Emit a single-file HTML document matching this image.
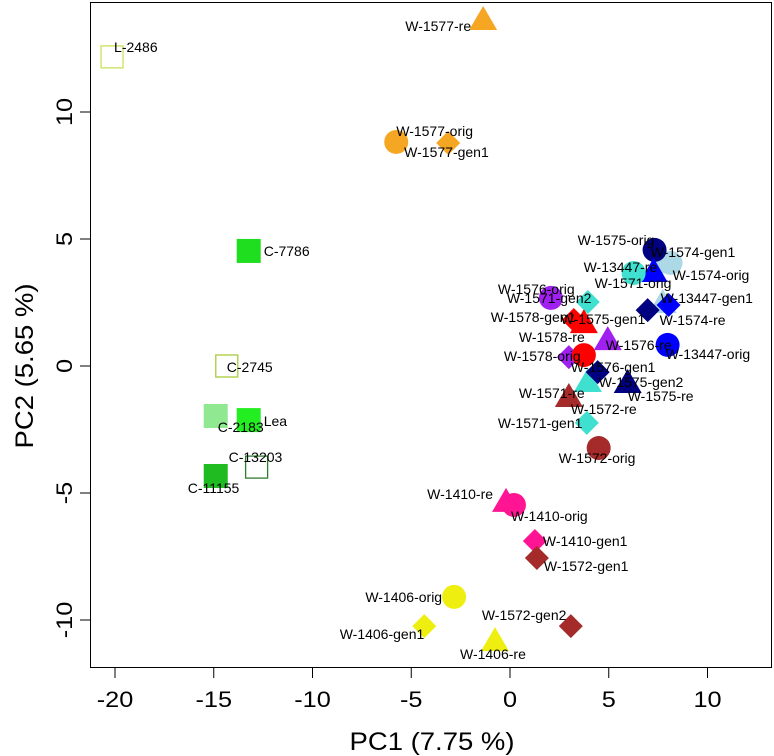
<!DOCTYPE html>
<html><head><meta charset="utf-8"><style>
html,body{margin:0;padding:0;background:#fff;}
svg{display:block;font-family:"Liberation Sans",Arial,sans-serif;}
</style></head><body>
<svg id="chart" width="774" height="756" viewBox="0 0 774 756" xmlns="http://www.w3.org/2000/svg"></svg>
<script>
const names = ["L-2486","W-1577-re","W-1577-orig","W-1577-gen1","C-7786","C-2745","C-2183","Lea","C-13203","C-11155","W-1410-re","W-1410-orig","W-1410-gen1","W-1572-gen1","W-1406-orig","W-1406-gen1","W-1406-re","W-1572-gen2",
"W-1574-gen1","W-1574-orig","W-1575-orig","W-13447-re","W-1571-orig","W-1574-re","W-13447-gen1","W-1575-gen1","W-13447-orig","W-1571-gen2","W-1576-orig","W-1578-gen1","W-1578-re","W-1576-re","W-1576-gen1","W-1578-orig","W-1571-re","W-1575-gen2","W-1575-re","W-1572-re","W-1571-gen1","W-1572-orig"];
const pc1 = [-20.15,-1.36,-5.76,-3.13,-13.23,-14.34,-14.9,-13.23,-12.83,-14.9,-0.2,0.2,1.26,1.36,-2.83,-4.34,-0.76,3.08,
7.73,8.13,7.32,7.27,6.26,7.73,8.03,6.97,7.98,3.94,2.07,3.23,3.74,4.95,2.98,3.74,3.94,4.44,5.96,2.98,3.89,4.49];
const pc2 = [12.17,13.62,8.82,8.78,4.53,0,-1.97,-2.13,-3.98,-4.33,-5.35,-5.47,-6.89,-7.56,-9.09,-10.24,-10.83,-10.24,
4.09,4.06,4.57,3.70,3.66,2.48,2.40,2.20,0.83,2.52,2.68,1.81,1.69,1.02,0.35,0.43,-0.63,-0.24,-0.67,-1.22,-2.24,-3.23];
const shapes = ["osq","tri","cir","dia","sq","osq","sq","sq","osq","sq","tri","cir","dia","dia","cir","dia","tri","dia",
"dia","cir","cir","tri","cir","tri","dia","dia","cir","dia","cir","dia","tri","tri","dia","cir","tri","dia","tri","tri","dia","cir"];
const colors = ["#c8e35a","#f5a623","#f5a623","#f5a623","#1fdd1f","#a9cc3a","#90e890","#22ee22","#2e7d2e","#20bb20","#ff1493","#ff1493","#ff1493","#a52a2a","#eeee10","#eeee10","#eeee10","#a52a2a",
"#add8e6","#add8e6","#000080","#0000ff","#40e0d0","#add8e6","#0000ff","#000080","#0000ff","#40e0d0","#a020f0","#ff0000","#ff0000","#a020f0","#a020f0","#ff0000","#40e0d0","#000080","#000080","#a52a2a","#40e0d0","#a52a2a"];
const labelDx = [2,-12,0,-44,15,0,2,15,-28,-28,-13,-3,8,7,-12,0,-35,-89,
-12,2,-77,-70,-39,-3,-8,-87,-2,-81,-53,-83,-65,-2,2,-80,-69,1,0,2,-89,-40];
const labelDy = [-10,6,-11,9,0,1,11,1,-10,12,-8,11,0,8,0,8,13,-11,
-10,12,-10,-5,10,17,-7,9,9,-4,-9,-3,14,5,10,1,11,10,13,12,0,10];
const labelAnchor = ["s","e","s","s","s","s","s","s","s","s","e","s","s","s","e","e","s","s",
"s","s","s","s","s","s","s","s","s","s","s","s","s","s","s","s","s","s","s","s","s","s"];
const xTicks = [-20,-15,-10,-5,0,5,10];
const yTicks = [-10,-5,0,5,10];

const svg = document.getElementById('chart');
const NS = "http://www.w3.org/2000/svg";
const X0 = 510, XS = 19.75, Y0 = 366, YS = 25.4;
const xs = v => X0 + v*XS;
const ys = v => Y0 - v*YS;
function mk(tag, attrs, parent){const e=document.createElementNS(NS,tag);for(const k in attrs)e.setAttribute(k,attrs[k]);(parent||svg).appendChild(e);return e;}

const box = mk('rect',{x:90.5,y:2.5,width:681,height:665,fill:'none',stroke:'#000','stroke-width':1});



const xa = mk('g',{});


xTicks.forEach(t=>{
  mk('line',{x1:xs(t),x2:xs(t),y1:668,y2:678,stroke:'#000'},xa);
  const tx = mk('text',{x:0,y:0,'font-size':22,'text-anchor':'middle',transform:`translate(${xs(t)},707) scale(1.15,1)`},xa);
  tx.textContent = t;
  
  
});
const xt = mk('text',{x:0,y:0,'font-size':25,'text-anchor':'middle',transform:'translate(432,750) scale(1.1,1)'});
xt.textContent = 'PC1 (7.75 %)';



const ya = mk('g',{});


yTicks.forEach(t=>{
  mk('line',{x1:80,x2:90,y1:ys(t),y2:ys(t),stroke:'#000'},ya);
  const tx = mk('text',{x:0,y:0,'font-size':22,'text-anchor':'middle',transform:`translate(72,${ys(t)}) rotate(-90) scale(1.15,1)`},ya);
  tx.textContent = t;
  
  
});
const yt = mk('text',{x:0,y:0,'font-size':25,'text-anchor':'middle',transform:'translate(33,366) rotate(-90) scale(1.1,1)'});
yt.textContent = 'PC2 (5.65 %)';



const pts = mk('g',{});


names.forEach((n,i)=>{
  const cx = xs(pc1[i]), cy = ys(pc2[i]), c = colors[i];
  let e;
  if(shapes[i]==='cir') e = mk('circle',{cx:cx,cy:cy,r:12,fill:c},pts);
  else if(shapes[i]==='sq') e = mk('rect',{x:cx-12,y:cy-12,width:24,height:24,fill:c},pts);
  else if(shapes[i]==='osq') e = mk('rect',{x:cx-11,y:cy-11,width:22,height:22,fill:'none',stroke:c,'stroke-width':1.3},pts);
  else if(shapes[i]==='tri') e = mk('polygon',{points:`${cx},${cy-14} ${cx+14},${cy+10} ${cx-14},${cy+10}`,fill:c},pts);
  else e = mk('polygon',{points:`${cx},${cy-12} ${cx+12},${cy} ${cx},${cy+12} ${cx-12},${cy}`,fill:c},pts);
  
  
});
const labs = mk('g',{});


names.forEach((n,i)=>{
  const t = mk('text',{x:xs(pc1[i])+labelDx[i],y:ys(pc2[i])+labelDy[i]+5,'font-size':14,'text-anchor':labelAnchor[i]==='e'?'end':'start'},labs);
  t.textContent = n;
  
  
});
</script>
</body></html>
